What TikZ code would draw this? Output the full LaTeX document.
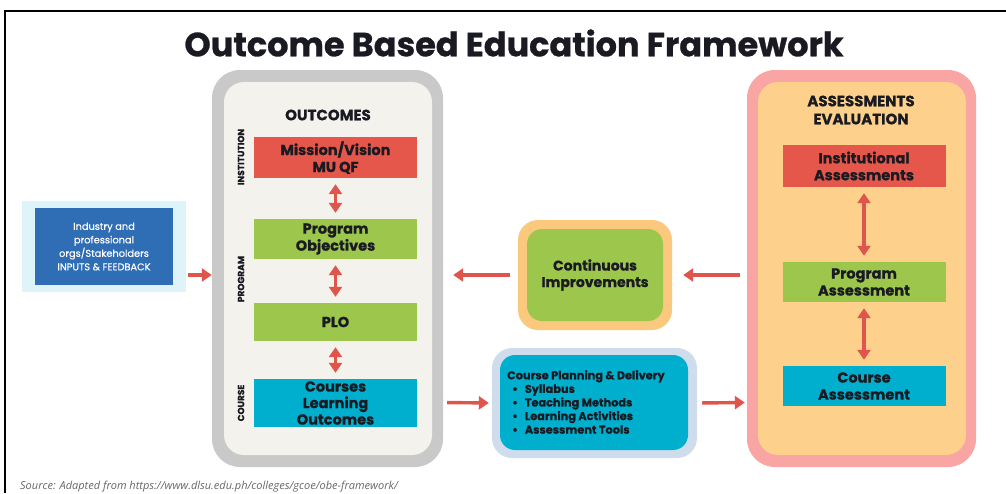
\documentclass[tikz,border=0pt]{standalone}
\usepackage{fontspec}
\setmainfont{Poppins}[BoldFeatures={FakeBold=0.8}]
\newfontfamily\popmed{Poppins}[FakeBold=0.4]
\newfontfamily\srcfont{Open Sans}
\usetikzlibrary{arrows.meta,positioning}

\definecolor{obered}{HTML}{E5574B}
\definecolor{obegreen}{HTML}{9DC64D}
\definecolor{obecyan}{HTML}{00AFCD}
\definecolor{obearrow}{HTML}{E0554B}
\definecolor{obegray}{HTML}{C9C9C9}
\definecolor{obecream}{HTML}{F4F2ED}
\definecolor{obepink}{HTML}{F8A5A4}
\definecolor{obepeach}{HTML}{FDD08B}
\definecolor{obeorange}{HTML}{FAC97E}
\definecolor{obepale}{HTML}{CFDCEC}
\definecolor{obeice}{HTML}{DFF4F9}
\definecolor{obeblue}{HTML}{2F6DB5}
\definecolor{obetext}{HTML}{1A1A22}

\begin{document}
\begin{tikzpicture}[x=1pt,y=-1pt,>={Triangle[length=10pt,width=13pt]},
  every node/.style={inner sep=0pt,text=obetext},
  panel/.style={rounded corners=#1},
  item/.style={minimum width=163pt,align=center,font=\fontsize{14.5}{17}\selectfont\bfseries},
  side/.style={rotate=90,font=\fontsize{9}{10}\selectfont\bfseries},
  head/.style={align=center,font=\fontsize{15}{18}\selectfont\bfseries},
  link/.style={every edge/.append style={draw=obearrow,line width=3.4pt}},
  twoway/.style={link,<->,shorten <=6pt,shorten >=6pt}]

\useasboundingbox (0,0) rectangle (1006,493);
\draw[line width=2.5pt] (5,493) -- (5,11) -- (1006,11);

\node (title) at (514,43) {\fontsize{33.5}{36}\selectfont\bfseries Outcome Based Education Framework};

% outcomes column
\node[panel=28pt,fill=obegray,minimum width=231pt,minimum height=397pt] (outbox) at (327.5,268.5) {};
\node[panel=20pt,fill=obecream,minimum width=208pt,minimum height=373pt] (outin) at (328,268.5) {};
\node[head] (outhead) at (328,115) {OUTCOMES};
\node[item,fill=obered,minimum height=41pt]   (mv) at (335.5,157.5) {Mission/Vision\\MU QF};
\node[item,fill=obegreen,minimum height=40pt] (po) at (335.5,239)   {Program\\Objectives};
\node[item,fill=obegreen,minimum height=38pt] (plo) at (335.5,322)  {PLO};
\node[item,fill=obecyan,minimum height=48pt,font=\fontsize{14.5}{16.5}\selectfont\bfseries]
  (clo) at (335.5,403) {Courses\\Learning\\Outcomes};
\node[side] (inst) at (241,157) {INSTITUTION};
\node[side] (prog) at (241,279) {PROGRAM};
\node[side] (crs)  at (241,403) {COURSE};

% inputs
\node[fill=obeice,minimum width=164pt,minimum height=91pt] (indout) at (104,246.5) {};
\node[fill=obeblue,minimum width=138pt,minimum height=77pt,align=center,text=white,
  font=\popmed\fontsize{9.8}{13.5}\selectfont] (ind) at (104,246.5)
  {Industry and\\professional\\orgs/Stakeholders\\INPUTS \& FEEDBACK};

% continuous improvements
\node[panel=20pt,fill=obeorange,minimum width=154pt,minimum height=110pt] (ciout) at (595,275) {};
\node[panel=15pt,fill=obegreen,minimum width=136pt,minimum height=92pt,align=center,
  font=\fontsize{14}{16.5}\selectfont\bfseries] (ci) at (595,275) {Continuous\\Improvements};

% course planning
\node[panel=20pt,fill=obepale,minimum width=205pt,minimum height=110pt] (cpdout) at (594.5,403) {};
\node[panel=15pt,fill=obecyan,minimum width=188pt,minimum height=95pt] (cpd) at (594,402.5) {};
\node[align=left,font=\fontsize{11.3}{13.6}\selectfont\bfseries,anchor=north west] (cpdtext) at (507,370)
  {Course Planning \& Delivery\\
   \hspace*{5pt}\textbullet\hspace{7pt}Syllabus\\
   \hspace*{5pt}\textbullet\hspace{7pt}Teaching Methods\\
   \hspace*{5pt}\textbullet\hspace{7pt}Learning Activities\\
   \hspace*{5pt}\textbullet\hspace{7pt}Assessment Tools};

% assessments column
\node[panel=28pt,fill=obepink,minimum width=229pt,minimum height=397pt] (asbox) at (861.5,268.5) {};
\node[panel=20pt,fill=obepeach,minimum width=208pt,minimum height=373pt] (asin) at (862,268.5) {};
\node[head] (ashead) at (861,110) {ASSESSMENTS\\EVALUATION};
\node[item,fill=obered,minimum height=42pt]   (ia) at (864,166) {Institutional\\Assessments};
\node[item,fill=obegreen,minimum height=40pt] (pa) at (864,282) {Program\\Assessment};
\node[item,fill=obecyan,minimum height=40pt]  (ca) at (864,386) {Course\\Assessment};

% connectors
\path[twoway] (mv) edge (po)
              (po) edge (plo)
              (plo) edge (clo)
              (ia) edge (pa)
              (pa) edge (ca);
\path[link,->] (indout.east |- ci) edge[shorten <=2pt] (outbox.west |- ci)
               (ciout.west) edge[shorten <=8pt,shorten >=10pt] (outbox.east |- ci)
               (asbox.west |- ci) edge[shorten <=7pt,shorten >=11pt] (ciout.east)
               (outbox.east |- cpd) edge[shorten <=4pt,shorten >=3pt] (cpdout.west)
               (cpdout.east) edge[shorten <=5pt,shorten >=2pt] (asbox.west |- cpd);

\node[anchor=west,text=black!60,font=\srcfont\fontsize{11}{12}\selectfont\itshape] (src) at (20,487)
  {Source: Adapted from https://www.dlsu.edu.ph/colleges/gcoe/obe-framework/};
\end{tikzpicture}
\end{document}
